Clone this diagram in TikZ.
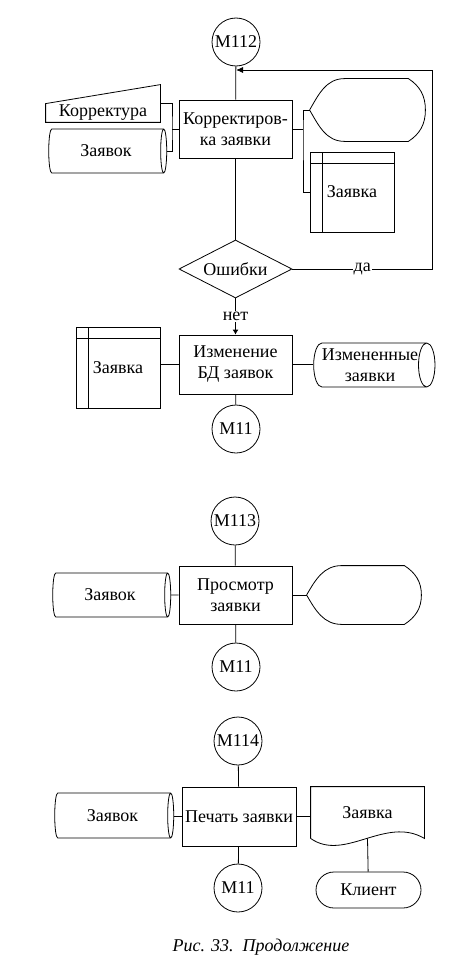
\documentclass[tikz,border=0pt]{standalone}
\usepackage{fontspec}
\setmainfont{Liberation Serif}
\usetikzlibrary{shapes.geometric,shapes.misc,arrows.meta}

\newcommand\dispoutline[1]{%
  \draw (#1.west) to[out=60,in=180] ([xshift=35pt]#1.north west)
    -- ([xshift=-17pt]#1.north east) to[out=-33,in=90] (#1.east)
    to[out=-90,in=33] ([xshift=-17pt]#1.south east)
    -- ([xshift=35pt]#1.south west) to[out=180,in=-60] (#1.west);}

\begin{document}
\begin{tikzpicture}[x=1pt,y=1pt,line width=0.8pt,
    every node/.style={font=\fontsize{18}{21}\selectfont},
    procbox/.style={draw,rectangle,minimum width=113pt,minimum height=58pt,align=center,inner sep=1pt},
    onpage/.style={draw,circle,minimum size=48pt,inner sep=0pt},
    stored/.style={draw,cylinder,shape border rotate=0,aspect=0.5,minimum height=118pt,minimum width=44pt,align=center,inner sep=0pt},
    intmem/.style={draw,rectangle,minimum width=84pt,minimum height=80pt,
      path picture={\draw ([xshift=12pt]path picture bounding box.north west) -- ([xshift=12pt]path picture bounding box.south west);
        \draw ([yshift=-11pt]path picture bounding box.north west) -- ([yshift=-11pt]path picture bounding box.north east);}},
    decision/.style={draw,diamond,aspect=1.95,minimum width=113pt,minimum height=58pt,inner sep=0pt},
    termin/.style={draw,rounded rectangle,minimum width=105pt,minimum height=36pt,inner sep=0pt},
    shapeonly/.style={rectangle,inner sep=0pt,align=center},
    lbl/.style={fill=white,inner sep=1pt}]

  \useasboundingbox (0,0) rectangle (465,-971);

  \node[onpage] (m112) at (236,-42) {М112};
  \node[procbox] (kb) at (235.5,-129) {Корректиров-\\ка заявки};
  \node[shapeonly,minimum width=114pt,minimum height=18pt] (korr) at (103,-113) {Корректура};
  \node[stored] (zav1) at (106,-151) {Заявок};
  \node[shapeonly,minimum width=115pt,minimum height=62pt] (disp1) at (367.5,-110) {};
  \node[intmem] (vz1) at (352,-192) {Заявка};
  \node[decision] (osh) at (235.5,-269) {Ошибки};
  \node[procbox,minimum height=59pt] (izm) at (235.5,-364.5) {Изменение\\БД заявок};
  \node[intmem,minimum height=81pt] (vz2) at (118,-367.5) {Заявка};
  \node[stored] (zav2) at (370,-365) {Измененные\\заявки};
  \node[onpage] (m11a) at (236,-429) {М11};

  \node[onpage] (m113) at (235,-521) {М113};
  \node[procbox] (pr) at (235.5,-595) {Просмотр\\заявки};
  \node[stored] (zav3) at (110,-595) {Заявок};
  \node[shapeonly,minimum width=114pt,minimum height=58pt] (disp2) at (364,-595) {};
  \node[onpage] (m11b) at (236,-667) {М11};

  \node[onpage] (m114) at (238,-741) {М114};
  \node[procbox,minimum width=114pt,minimum height=59pt] (pch) at (239,-816.5) {Печать заявки};
  \node[stored,minimum height=119pt,minimum width=45pt] (zav4) at (112.5,-815.5) {Заявок};
  \node[shapeonly,minimum width=113pt,minimum height=51pt] (doc) at (367.5,-812.5) {Заявка};
  \node[termin] (klient) at (368.5,-890) {Клиент};
  \node[onpage] (m11c) at (238,-888) {М11};

  \node[font=\fontsize{18}{21}\selectfont\itshape] (cap) at (261,-947) {Рис. 33.~~Продолжение};

  \draw (korr.south west) -- (korr.south east) -- ([yshift=19pt]korr.north east) -- (korr.north west) -- cycle;
  \dispoutline{disp1}
  \dispoutline{disp2}
  \draw (doc.south west) -- (doc.north west) -- (doc.north east) -- (doc.south east)
    .. controls +(-39,23) and +(34,-24) .. (doc.south west);

  \coordinate (fb) at (432,-70);
  \coordinate (lj) at (172,-129);
  \coordinate (rj) at (303,-129);

  \draw (m112) -- (kb);
  \draw (kb.west) -- (lj);
  \draw (korr.north east) -| (lj) |- (zav1.east);
  \draw (kb.east) -- (rj);
  \draw (disp1.west) -| (rj) |- (vz1.west);
  \draw (kb) -- (osh);
  \draw[-{Latex[length=7pt,width=6pt]}] (osh.east) -- node[lbl] {да} (fb |- osh.east) -- (fb) -- (fb -| m112);
  \draw[-{Latex[length=5pt,width=6pt]}] (osh) -- node[lbl] {нет} (izm);
  \draw (izm.west) -- (izm.west -| vz2.east);
  \draw (izm.east) -- (izm.east -| zav2.west);
  \draw (izm) -- (m11a);

  \draw (m113) -- (pr);
  \draw (pr) -- (zav3);
  \draw (pr.east) -- (disp2.west);
  \draw (pr) -- (m11b);

  \draw (m114) -- (pch);
  \draw (pch.west) -- (pch.west -| zav4.east);
  \draw (pch.east) -- (pch.east -| doc.west);
  \draw (pch) -- (m11c);
  \draw (doc.south) -- (klient);

\end{tikzpicture}
\end{document}
